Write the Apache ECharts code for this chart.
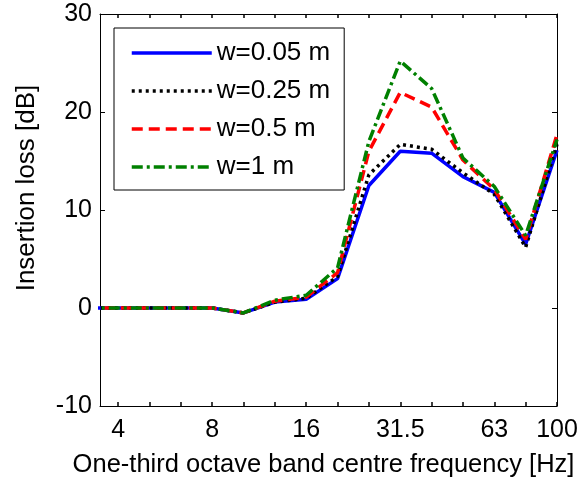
<!DOCTYPE html>
<html>
<head>
<meta charset="utf-8">
<script src="https://cdn.jsdelivr.net/npm/echarts@6/dist/echarts.min.js"></script>
<style>
  html, body { margin: 0; padding: 0; background: #fff; }
  #chart { width: 581px; height: 481px; }
</style>
</head>
<body>
<div id="chart"></div>
<script>
// One-third octave band centre frequencies (Hz)
const bandCentres = ['3.15', '4', '5', '6.3', '8', '10', '12.5', '16', '20', '25', '31.5', '40', '50', '63', '80', '100'];
// Bands that carry a tick label
const tickLabels = ['4', '8', '16', '31.5', '63', '100'];

// Insertion loss (dB) per band for each barrier width
const il005 = [0, 0, 0, 0, 0, -0.5, 0.6, 0.9, 3.0, 12.5, 16.0, 15.8, 13.4, 11.8, 6.5, 16.1];
const il025 = [0, 0, 0, 0, 0, -0.5, 0.6, 1.0, 3.2, 13.6, 16.7, 16.2, 13.8, 11.6, 6.2, 16.7];
const il05  = [0, 0, 0, 0, 0, -0.5, 0.7, 1.1, 3.6, 16.0, 22.0, 20.5, 15.1, 12.1, 7.0, 17.7];
const il1   = [0, 0, 0, 0, 0, -0.5, 0.8, 1.3, 4.1, 17.0, 25.2, 22.4, 15.3, 12.4, 7.4, 17.2];

// Axis range: 3.5 Hz to 100 Hz, positions in one-third-octave steps from 3.15 Hz
const xMinHz = 3.5;
const xMin = 1 + 3 * Math.log2(xMinHz / 4);
const xMax = bandCentres.length - 1;

const labelIdx = tickLabels.map(t => bandCentres.indexOf(t));
const tickIdx = bandCentres.map((_, i) => i).filter(i => i >= 1);

const FONT = 'Liberation Sans, Arial, sans-serif';
const FS = 26;
const FS_X = 25;

function pts(arr) { return arr.map((v, i) => [i, v]); }

const axisLine = { show: true, onZero: false, lineStyle: { color: '#000', width: 1 } };
const xTick = { show: true, inside: true, length: 4, customValues: tickIdx, lineStyle: { color: '#000', width: 1.5 } };
const yTick = { show: true, inside: true, length: 5, lineStyle: { color: '#000', width: 1 } };

const chart = echarts.init(document.getElementById('chart'), null, { renderer: 'canvas' });
chart.setOption({
  animation: false,
  backgroundColor: '#fff',
  grid: { left: 100, right: 24, top: 14, bottom: 75, containLabel: false, outerBoundsMode: 'none' },
  xAxis: [
    {
      type: 'value', min: xMin, max: xMax, position: 'bottom',
      axisLine: axisLine, axisTick: xTick, splitLine: { show: false },
      axisLabel: {
        customValues: labelIdx, margin: 12,
        color: '#000', fontFamily: FONT, fontSize: FS_X,
        formatter: v => bandCentres[Math.round(v)]
      },
      name: 'One-third octave band centre frequency [Hz]',
      nameLocation: 'middle', nameGap: 46,
      nameTextStyle: { color: '#000', fontFamily: FONT, fontSize: 25.5, padding: [0, 10, 0, 0] }
    },
    {
      type: 'value', min: xMin, max: xMax, position: 'top',
      axisLine: axisLine, axisTick: xTick, splitLine: { show: false },
      axisLabel: { show: false }
    }
  ],
  yAxis: [
    {
      type: 'value', min: -10, max: 30, interval: 10, position: 'left',
      axisLine: axisLine, axisTick: yTick, splitLine: { show: false },
      axisLabel: { margin: 8, color: '#000', fontFamily: FONT, fontSize: FS_X },
      name: 'Insertion loss [dB]', nameLocation: 'middle', nameGap: 60, nameRotate: 90,
      nameTextStyle: { color: '#000', fontFamily: FONT, fontSize: FS, padding: [0, 0, 0, 44] }
    },
    {
      type: 'value', min: -10, max: 30, interval: 10, position: 'right',
      axisLine: axisLine, axisTick: yTick, splitLine: { show: false },
      axisLabel: { show: false }
    }
  ],
  legend: {
    orient: 'vertical', left: 114, top: 28,
    backgroundColor: '#fff', borderColor: '#000', borderWidth: 1, borderRadius: 0,
    padding: [12, 14, 10, 16],
    itemWidth: 80, itemHeight: 25, itemGap: 12,
    itemStyle: { opacity: 0 },
    lineStyle: { width: 3.5 },
    textStyle: { color: '#000', fontFamily: FONT, fontSize: FS, lineHeight: 25 },
    data: ['w=0.05 m', 'w=0.25 m', 'w=0.5 m', 'w=1 m']
  },
  series: [
    {
      name: 'w=0.05 m', type: 'line', data: pts(il005), symbol: 'none', clip: true,
      lineStyle: { color: '#0000ff', width: 3.5, type: 'solid' }, itemStyle: { color: '#0000ff' }
    },
    {
      name: 'w=0.25 m', type: 'line', data: pts(il025), symbol: 'none', clip: true,
      lineStyle: { color: '#000000', width: 3.5, type: [3, 4] }, itemStyle: { color: '#000000' }
    },
    {
      name: 'w=0.5 m', type: 'line', data: pts(il05), symbol: 'none', clip: true,
      lineStyle: { color: '#ff0000', width: 3.5, type: [11, 6] }, itemStyle: { color: '#ff0000' }
    },
    {
      name: 'w=1 m', type: 'line', data: pts(il1), symbol: 'none', clip: true,
      lineStyle: { color: '#008000', width: 3.5, type: [11, 4, 3, 4] }, itemStyle: { color: '#008000' }
    }
  ]
});
</script>
</body>
</html>
